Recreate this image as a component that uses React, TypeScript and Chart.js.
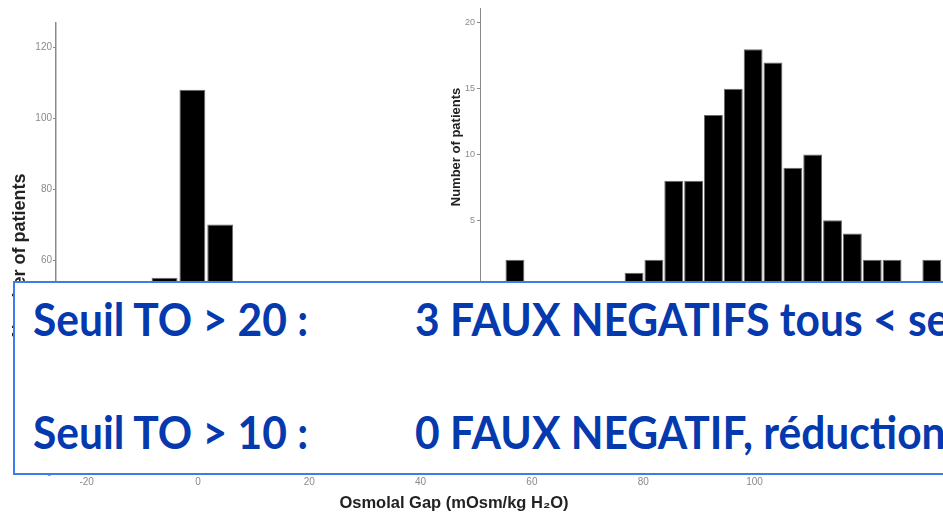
import React, { useEffect, useRef } from "react";
import { Chart, registerables } from "chart.js";

Chart.register(...registerables);

// ---- Left histogram (Osmolal Gap) ----
const leftBinCenters = [-6, -1, 4];
const leftCounts = [55, 108, 70];
const leftXTitle = "Osmolal Gap (mOsm/kg H\u2082O)";
const leftYTitle = "Number of patients   ";

// ---- Right histogram ----
const rightBinCenters = [15, 25, 35, 45, 55, 65, 75, 85, 95, 105, 115, 125, 135, 145, 155, 165, 175, 185, 195, 205, 215, 225];
const rightCounts = [2, 0, 0, 0, 0, 0, 1, 2, 8, 8, 13, 15, 18, 17, 9, 10, 5, 4, 2, 2, 0, 2];
const rightYTitle = "Number of patients";

// ---- Overlay text ----
const rowLabels = ["Seuil TO > 20 :", "Seuil TO > 10 :"];
const rowTexts = ["3 FAUX NEGATIFS tous < seuil", "0 FAUX NEGATIF, réduction"];

const FONT = "'Liberation Sans', Arial, sans-serif";

function LeftChart() {
  const ref = useRef<HTMLCanvasElement | null>(null);
  useEffect(() => {
    if (!ref.current) return;
    const chart = new Chart(ref.current, {
      type: "bar",
      data: {
        datasets: [
          {
            data: leftBinCenters.map((x, i) => ({ x, y: leftCounts[i] })),
            backgroundColor: "#000000",
            borderColor: "#6a6a6a",
            borderWidth: 1,
            barPercentage: 0.93,
            categoryPercentage: 1,
          },
        ],
      },
      options: {
        responsive: false,
        animation: false,
        devicePixelRatio: 1,
        layout: { padding: { top: 23, right: 91, left: 0, bottom: 0 } },
        plugins: { legend: { display: false }, tooltip: { enabled: false } },
        scales: {
          x: {
            type: "linear",
            min: -25.5,
            max: 117.5,
            offset: false,
            afterFit: (s: any) => {
              s.height = 39;
            },
            grid: { display: false, drawTicks: false },
            border: { display: true, color: "#888888" },
            ticks: {
              stepSize: 20,
              includeBounds: false,
              color: "#8a8a8a",
              font: { family: FONT, size: 10 },
              padding: 3,
            },
            title: {
              display: true,
              text: leftXTitle,
              color: "#222222",
              font: { family: FONT, size: 16.5, weight: "bold", lineHeight: 1 },
              padding: { top: -2, bottom: 0 },
            },
          },
          y: {
            min: 0,
            max: 126.8,
            afterFit: (s: any) => {
              s.width = 56;
            },
            grid: { drawOnChartArea: false, drawTicks: true, tickLength: 3, color: "#8a8a8a" },
            border: { display: true, color: "#8a8a8a", width: 1.5 },
            ticks: {
              stepSize: 20,
              includeBounds: false,
              color: "#8a8a8a",
              font: { family: FONT, size: 10 },
              padding: 1,
            },
            title: {
              display: true,
              text: leftYTitle,
              color: "#222222",
              font: { family: FONT, size: 18, weight: "bold" },
              padding: { top: 9, bottom: 0 },
            },
          },
        },
      },
    });
    return () => chart.destroy();
  }, []);
  return (
    <canvas
      ref={ref}
      width={943}
      height={512}
      style={{ position: "absolute", left: 0, top: 0, width: 943, height: 512 }}
    />
  );
}

function RightChart() {
  const ref = useRef<HTMLCanvasElement | null>(null);
  useEffect(() => {
    if (!ref.current) return;
    const chart = new Chart(ref.current, {
      type: "bar",
      data: {
        datasets: [
          {
            data: rightBinCenters.map((x, i) => ({ x, y: rightCounts[i] })),
            backgroundColor: "#000000",
            borderColor: "#6a6a6a",
            borderWidth: 1,
            barPercentage: 0.95,
            categoryPercentage: 1,
          },
        ],
      },
      options: {
        responsive: false,
        animation: false,
        devicePixelRatio: 1,
        layout: { padding: { top: 8, right: 0, left: 0, bottom: 0 } },
        plugins: { legend: { display: false }, tooltip: { enabled: false } },
        scales: {
          x: {
            type: "linear",
            min: -2.6,
            max: 230.65,
            offset: false,
            afterFit: (s: any) => {
              s.height = 14;
            },
            grid: { display: false, drawTicks: false },
            border: { display: false },
            ticks: { display: false },
          },
          y: {
            min: 0,
            max: 21.14,
            afterFit: (s: any) => {
              s.width = 60;
            },
            grid: { drawOnChartArea: false, drawTicks: true, tickLength: 3, color: "#8a8a8a" },
            border: { display: true, color: "#8a8a8a", width: 1 },
            ticks: {
              stepSize: 5,
              includeBounds: false,
              color: "#8a8a8a",
              font: { family: FONT, size: 9 },
              padding: 2,
            },
            title: {
              display: true,
              text: rightYTitle,
              color: "#222222",
              font: { family: FONT, size: 13, weight: "bold" },
              padding: { top: 29, bottom: 0 },
            },
          },
        },
      },
    });
    return () => chart.destroy();
  }, []);
  return (
    <canvas
      ref={ref}
      width={523}
      height={300}
      style={{ position: "absolute", left: 420, top: 0, width: 523, height: 300 }}
    />
  );
}

export default function App() {
  const textStyle: React.CSSProperties = {
    position: "absolute",
    fontFamily: "Lato, 'Open Sans', sans-serif",
    fontWeight: 700,
    fontSize: 45,
    lineHeight: 1,
    color: "#0539ae",
    whiteSpace: "nowrap",
    transform: "scaleX(0.945)",
    transformOrigin: "0 0",
  };
  return (
    <div
      style={{
        position: "absolute",
        left: 0,
        top: 0,
        width: 943,
        height: 512,
        overflow: "hidden",
        background: "#ffffff",
      }}
    >
      <LeftChart />
      <RightChart />
      <div
        style={{
          position: "absolute",
          left: 13,
          top: 281,
          width: 1000,
          height: 194,
          boxSizing: "border-box",
          border: "2px solid #3d7cf0",
          background: "#ffffff",
        }}
      >
        <div style={{ ...textStyle, left: 18, top: 14 }}>{rowLabels[0]}</div>
        <div style={{ ...textStyle, left: 400, top: 14 }}>{rowTexts[0]}</div>
        <div style={{ ...textStyle, left: 18, top: 127 }}>{rowLabels[1]}</div>
        <div style={{ ...textStyle, left: 400, top: 127 }}>{rowTexts[1]}</div>
      </div>
    </div>
  );
}
